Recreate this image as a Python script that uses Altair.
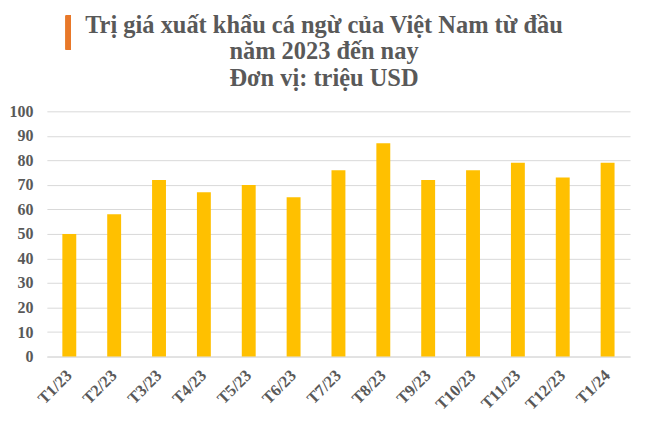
import altair as alt
import pandas as pd

months = ["T1/23", "T2/23", "T3/23", "T4/23", "T5/23", "T6/23", "T7/23",
          "T8/23", "T9/23", "T10/23", "T11/23", "T12/23", "T1/24"]
values = [50, 58, 72, 67, 70, 65, 76, 87, 72, 76, 79, 73, 79]
title_lines = ["Trị giá xuất khẩu cá ngừ của Việt Nam từ đầu",
               "năm 2023 đến nay", "Đơn vị: triệu USD"]

df = pd.DataFrame({"month": months, "value": values})
title_df = pd.DataFrame({"t": title_lines, "row": [0, 1, 2]})

FONT = "Liberation Serif, Times New Roman, serif"
GREY = "#595959"

bars = alt.Chart(df).mark_bar(color="#FFC000").encode(
    x=alt.X("month:N", sort=months, title=None,
            scale=alt.Scale(paddingInner=0.69, paddingOuter=0.345),
            axis=alt.Axis(labelAngle=-45, labelFont=FONT, labelFontSize=16.5,
                          labelFontWeight="bold", labelColor=GREY,
                          labelAlign="right", labelBaseline="middle",
                          ticks=False, domain=True, domainColor="#d9d9d9",
                          labelPadding=16, grid=False)),
    y=alt.Y("value:Q", title=None,
            scale=alt.Scale(domain=[0, 100], nice=False),
            axis=alt.Axis(values=list(range(0, 101, 10)), labelFont=FONT,
                          labelFontSize=16, labelFontWeight="bold",
                          labelColor=GREY, ticks=False, domain=False,
                          gridColor="#d9d9d9", labelPadding=14)),
)

accent = alt.Chart(df).mark_rule(color="#E8782A", strokeWidth=5).encode(
    x=alt.value(21.5), y=alt.value(-96), y2=alt.value(-62)
)

title = alt.Chart(title_df).mark_text(
    font=FONT, fontSize=24.5, fontWeight="bold", color=GREY,
    align="center", baseline="alphabetic", dy=-79
).encode(
    text="t:N", x=alt.value(278),
    y=alt.Y("row:Q", scale=alt.Scale(domain=[0, 1], range=[0, 27]), axis=None),
)

chart = alt.layer(bars, accent, title).resolve_scale(y="independent").properties(
    width=585, height=246,
    autosize=alt.AutoSizeParams(type="none"),
    padding={"left": 39, "top": 103, "right": 10, "bottom": 60},
).configure_view(stroke=None)

chart.save("out.html", embed_options={"renderer": "svg", "actions": False})
